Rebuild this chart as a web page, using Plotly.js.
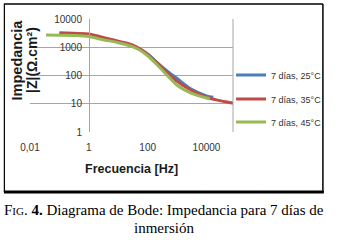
<!DOCTYPE html>
<html>
<head>
<meta charset="utf-8">
<script src="https://cdn.plot.ly/plotly-3.0.1.min.js"></script>
<style>html,body{margin:0;padding:0;background:#fff;}#chart{width:339px;height:240px;}</style>
</head>
<body>
<div id="chart"></div>
<script>
// Series: frequency [Hz] and impedance |Z| [Ω.cm²]
const freq25 = [0.1, 0.3, 1, 3, 10, 30, 50, 100, 200, 500, 1000, 3000, 10000, 17000];
const z25    = [2950, 2900, 2800, 2100, 1550, 1100, 900, 580, 300, 135, 78, 33, 19, 17];
const freq35 = [0.1, 0.3, 1, 2, 7, 20, 40, 100, 200, 500, 1000, 3000, 10000, 20000, 50000, 80000];
const z35    = [3250, 3100, 2950, 2500, 1800, 1380, 1050, 560, 290, 115, 62, 30, 17, 14, 11.5, 10.5];
const freq45 = [0.035, 0.1, 0.3, 1, 3, 10, 30, 50, 100, 200, 500, 1000, 3000, 10000, 13000];
const z45    = [2700, 2650, 2600, 2400, 1850, 1450, 1050, 830, 500, 250, 93, 45, 24, 16, 15];
const seriesNames = ['7 días, 25°C', '7 días, 35°C', '7 días, 45°C'];
const xTickVals = [0.01, 1, 100, 10000];
const xTickText = ['0,01', '1', '100', '10000'];
const yTickVals = [1, 10, 100, 1000, 10000];
const yTickText = ['1', '10', '100', '1000', '10000'];

const colors = ['#4a7ebb', '#be4b48', '#98b954'];
const tickFont = {family: 'Liberation Sans Narrow, Arial Narrow, Liberation Sans, Arial, sans-serif', size: 10, color: '#333333'};
const legFont = {family: 'Liberation Sans Narrow, Arial Narrow, Liberation Sans, Arial, sans-serif', size: 9, color: '#333333'};

const traces = [
  {x: freq25, y: z25, name: seriesNames[0], legend: 'legend'},
  {x: freq35, y: z35, name: seriesNames[1], legend: 'legend2'},
  {x: freq45, y: z45, name: seriesNames[2], legend: 'legend3'}
].map((t, i) => Object.assign(t, {
  type: 'scatter', mode: 'lines',
  line: {color: colors[i], width: 3, shape: 'spline', smoothing: 0.8},
  hoverinfo: 'skip'
}));

// plot area: x 30..240 px, y 19..132 px
const L = 30, R = 240, T = 19, B = 132;
const W = R - L, H = B - T;
const px = v => (v - L) / W;
const py = v => (B - v) / H;

const legendBase = {
  xanchor: 'left', yanchor: 'middle', x: px(238),
  bgcolor: 'rgba(0,0,0,0)', borderwidth: 0,
  font: legFont
};

const layout = {
  width: 339, height: 240,
  margin: {l: L, r: 339 - R, t: T, b: 240 - B, pad: 0},
  paper_bgcolor: '#ffffff', plot_bgcolor: '#ffffff',
  showlegend: true,
  legend: Object.assign({}, legendBase, {y: py(75)}),
  legend2: Object.assign({}, legendBase, {y: py(99)}),
  legend3: Object.assign({}, legendBase, {y: py(122)}),
  xaxis: {
    type: 'log', range: [-2, 4.9],
    tickvals: xTickVals, ticktext: xTickText,
    showgrid: false, zeroline: false, showline: false,
    ticks: 'outside', ticklen: 6, tickcolor: 'rgba(0,0,0,0)',
    tickfont: tickFont
  },
  yaxis: {
    type: 'log', range: [0, 4],
    tickvals: yTickVals, ticktext: yTickText,
    showgrid: true, gridcolor: '#a6a6a6', gridwidth: 1,
    zeroline: false, showline: true, linecolor: '#a6a6a6', linewidth: 1,
    anchor: 'free', position: px(91),
    ticks: 'outside', ticklen: 5, tickcolor: 'rgba(0,0,0,0)',
    tickfont: tickFont
  },
  shapes: [
    {type: 'line', layer: 'between', xref: 'paper', yref: 'paper', x0: 0, x1: px(90), y0: 0, y1: 0, line: {color: '#ffffff', width: 2}},
    {type: 'line', layer: 'between', xref: 'paper', yref: 'paper', x0: px(92), x1: 1, y0: 0, y1: 0, line: {color: '#ffffff', width: 2}},
    {type: 'line', xref: 'paper', yref: 'paper', x0: 1, x1: 1, y0: 0, y1: 1, line: {color: '#a6a6a6', width: 1}},
    {type: 'line', xref: 'paper', yref: 'paper', x0: px(3), x1: px(333), y0: py(4), y1: py(4), line: {color: '#000', width: 1.5}},
    {type: 'line', xref: 'paper', yref: 'paper', x0: px(3.5), x1: px(3.5), y0: py(4), y1: py(192), line: {color: '#000', width: 1.2}},
    {type: 'line', xref: 'paper', yref: 'paper', x0: px(333), x1: px(333), y0: py(4), y1: py(192), line: {color: '#000', width: 1.5}},
    {type: 'line', xref: 'paper', yref: 'paper', x0: px(3), x1: px(334), y0: py(192), y1: py(192), line: {color: '#000', width: 3}}
  ],
  annotations: [
    {xref: 'paper', yref: 'paper', x: px(135), y: py(169), text: '<b>Frecuencia [Hz]</b>', showarrow: false,
     xanchor: 'center', yanchor: 'middle', font: {family: 'Liberation Sans, Arial, sans-serif', size: 12.5, color: '#1a1a1a'}},
    {xref: 'paper', yref: 'paper', x: px(17), y: py(60), text: '<b>Impedancia</b>', textangle: -90, showarrow: false,
     xanchor: 'center', yanchor: 'middle', font: {family: 'Liberation Sans, Arial, sans-serif', size: 14.5, color: '#1a1a1a'}},
    {xref: 'paper', yref: 'paper', x: px(32), y: py(60), text: '<b>|Z|(Ω.cm²)</b>', textangle: -90, showarrow: false,
     xanchor: 'center', yanchor: 'middle', font: {family: 'Liberation Sans, Arial, sans-serif', size: 14, color: '#1a1a1a'}},
    {xref: 'paper', yref: 'paper', x: px(169), y: py(210), showarrow: false, xanchor: 'center', yanchor: 'middle',
     text: 'F<span style="font-size:11px">IG</span>. <b>4.</b> Diagrama de Bode: Impedancia para 7 días de',
     font: {family: 'Liberation Serif, Times New Roman, serif', size: 15, color: '#000'}},
    {xref: 'paper', yref: 'paper', x: px(169), y: py(228), showarrow: false, xanchor: 'center', yanchor: 'middle',
     text: 'inmersión',
     font: {family: 'Liberation Serif, Times New Roman, serif', size: 15, color: '#000'}}
  ]
};

Plotly.newPlot('chart', traces, layout, {staticPlot: true, displayModeBar: false});
</script>
</body>
</html>
